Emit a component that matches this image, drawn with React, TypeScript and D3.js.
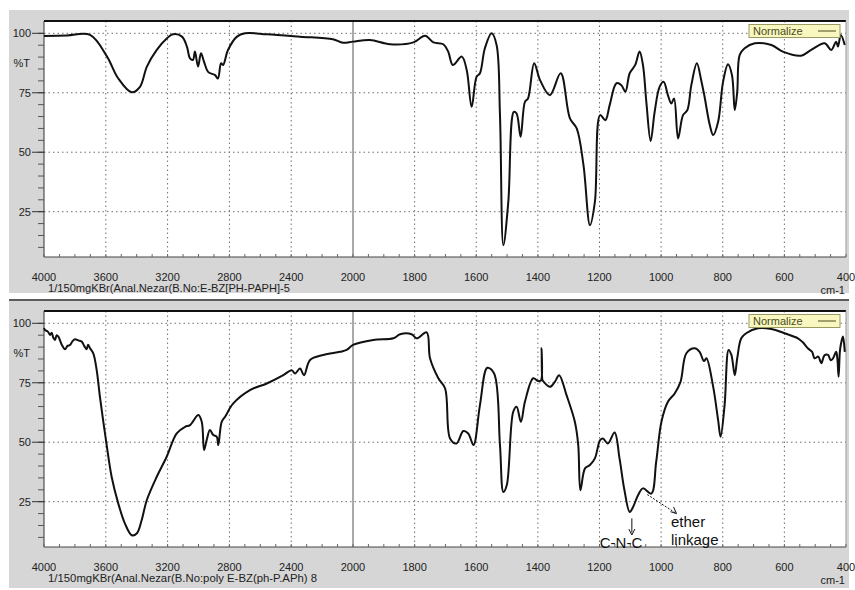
import * as d3 from 'd3';

// wavenumber (cm-1), %T
const TOP_SPECTRUM: [number, number][] = [
    [4000, 98.9], [3850, 99.1], [3702, 99.3], [3592, 90.2], [3521, 81.2], [3432, 75.2], [3379, 77.5],
    [3334, 86], [3270, 93], [3204, 97.9], [3165, 99.6], [3107, 98.6], [3075, 94.4], [3055, 89.5],
    [3036, 88.8], [3023, 92.3], [3003, 86], [2984, 91.6], [2964, 88], [2938, 83.8], [2893, 82.4],
    [2874, 81], [2854, 87.4], [2841, 86.7], [2809, 93], [2751, 98.6], [2699, 100], [2557, 99.6],
    [2343, 98.6], [2130, 97.5], [2065, 96], [2000, 96.5], [1945, 97.2], [1880, 95.4], [1804, 96.2],
    [1766, 99], [1739, 96.2], [1707, 95.4], [1691, 92.3], [1676, 86.7], [1647, 90.2], [1631, 84.6],
    [1615, 69.1], [1599, 81.7], [1588, 83.2], [1572, 93.7], [1550, 100], [1534, 95.1], [1523, 65.6],
    [1512, 10.9], [1496, 29.1], [1478, 67], [1469, 66.3], [1456, 56.5], [1442, 71.2], [1432, 72.6],
    [1412, 87.4], [1393, 80.3], [1361, 74], [1326, 83.2], [1296, 64.2], [1274, 60], [1252, 44.6],
    [1231, 19.3], [1215, 29.1], [1198, 65.6], [1181, 63.5], [1167, 69.8], [1145, 79], [1129, 78.2],
    [1116, 75.4], [1102, 83.2], [1084, 86.7], [1070, 92.3], [1059, 86.7], [1048, 71.2], [1034, 54.7],
    [1021, 67], [1005, 77.5], [992, 79.6], [978, 74], [967, 70.5], [958, 72.6], [945, 55.8],
    [929, 65.6], [915, 67.7], [902, 78.2], [884, 87.4], [870, 80.3], [859, 73.3], [842, 61.4],
    [831, 57.2], [815, 62.8], [799, 79.6], [783, 87], [770, 82.4], [761, 67.7], [753, 75.4],
    [745, 90.9], [729, 93.7], [696, 95.8], [642, 95.1], [605, 92.3], [546, 90.6], [513, 93],
    [469, 95.8], [448, 93], [432, 96.5], [426, 94.4], [417, 99.3], [404, 95.1],
];

// wavenumber (cm-1), %T (polymer)
const BOTTOM_SPECTRUM: [number, number][] = [
    [4000, 98], [3994, 97.2], [3975, 96.5], [3961, 95.1], [3950, 96], [3940, 94], [3929, 93],
    [3918, 95], [3907, 94.4], [3885, 91], [3864, 89.1], [3848, 90.5], [3832, 90.9], [3815, 92.5],
    [3799, 93.3], [3778, 92.8], [3756, 92.3], [3740, 90.5], [3724, 89.1], [3715, 91], [3702, 89.5],
    [3681, 87.4], [3659, 80.3], [3638, 69.1], [3599, 50.9], [3562, 35.4], [3519, 24.2], [3476, 15.8],
    [3432, 10.9], [3400, 11.6], [3368, 17.2], [3335, 25.6], [3271, 35.4], [3206, 43.9], [3141, 53.7],
    [3087, 56.5], [3055, 57.2], [3001, 61.4], [2979, 58.6], [2964, 46.7], [2947, 50.9], [2926, 55.1],
    [2904, 53], [2882, 52.3], [2872, 48.8], [2850, 58.6], [2828, 60.7], [2775, 66.3], [2667, 71.9],
    [2558, 74.7], [2451, 78.2], [2397, 80.3], [2375, 78.9], [2343, 81], [2317, 78.2], [2278, 84.6],
    [2192, 86.7], [2084, 88], [2041, 88.8], [2000, 90.9], [1934, 93], [1869, 93.7], [1847, 95.4],
    [1810, 95.4], [1793, 93.7], [1761, 96.2], [1750, 85.3], [1723, 76.9], [1701, 72.6], [1685, 51.6],
    [1664, 49.5], [1642, 54.7], [1626, 53.7], [1609, 48.8], [1588, 65.6], [1564, 81.3], [1542, 78.9],
    [1523, 48.8], [1512, 29.1], [1501, 31.9], [1480, 62.8], [1469, 64.9], [1455, 58.6], [1442, 67],
    [1415, 76.9], [1399, 75.7], [1390, 76], [1388, 89.5], [1385, 76], [1383, 75.7], [1361, 73.3],
    [1345, 75.4], [1331, 78.2], [1307, 69.8], [1280, 58.6], [1269, 48.8], [1262, 29.8], [1247, 39],
    [1231, 40.4], [1215, 43.2], [1198, 50.9], [1189, 51.6], [1173, 49.5], [1151, 54.1], [1135, 43.2],
    [1119, 29.8], [1102, 20.7], [1091, 22.8], [1075, 27.7], [1059, 30.6], [1032, 28.4], [1016, 41.8],
    [999, 58.6], [978, 67], [956, 70.5], [937, 75.4], [918, 87.4], [891, 89.5], [875, 88], [861, 84.1],
    [853, 85.3], [832, 74], [815, 59.3], [807, 52.3], [794, 65.6], [781, 88.8], [772, 86.7], [761, 78.2],
    [753, 85.3], [740, 93.7], [724, 95.8], [686, 97.9], [642, 97.6], [599, 95.8], [556, 93.7],
    [540, 92], [524, 89.5], [510, 88], [502, 85.3], [490, 86], [480, 83.2], [470, 86.5], [458, 86.7],
    [450, 84.5], [442, 85.3], [432, 88], [428, 85], [424, 77.5], [420, 88], [417, 90.9], [410, 94.4],
    [404, 88],
];

const X_TICKS = [4000, 3600, 3200, 2800, 2400, 2000, 1800, 1600, 1400, 1200, 1000, 800, 600, 400];
const Y_TICKS = [100, 75, 50, 25];
const Y_MINOR = d3.range(10, 101, 5);
const X_MINOR = [...d3.range(4000, 2000, -100), ...d3.range(2000, 399, -50)];

const TOP_CAPTION = '1/150mgKBr(Anal.Nezar(B.No:E-BZ[PH-PAPH]-5';
const BOTTOM_CAPTION = '1/150mgKBr(Anal.Nezar(B.No:poly E-BZ(ph-P.APh) 8';

const FONT = '"Liberation Sans Narrow", "Liberation Sans", Arial, sans-serif';

// Instrument plots use a x2 expansion below 2000 cm-1
const x = d3.scaleLinear().domain([4000, 2000, 400]).range([44, 353, 846]);
const y = d3.scaleLinear().domain([100, 25]).range([33.3, 211.7]);

const PLOT_TOP = 21;
const PLOT_BOTTOM = 257;

const line = d3
    .line<[number, number]>()
    .x((d) => x(d[0]))
    .y((d) => y(d[1]))
    .curve(d3.curveCatmullRom.alpha(0.5));

type PanelProps = {
    offsetY: number;
    data: [number, number][];
    caption: string;
    captionWidth: number;
    annotate?: boolean;
};

const Panel = ({ offsetY, data, caption, captionWidth, annotate }: PanelProps) => {
    const cnX = x(1095);
    return (
        <g transform={`translate(0,${offsetY})`}>
            {/* plot area */}
            <rect x={44} y={PLOT_TOP} width={802} height={PLOT_BOTTOM - PLOT_TOP} fill="#ffffff" />

            {/* dotted grid */}
            {Y_TICKS.map((t) => (
                <line
                    key={`gy${t}`}
                    x1={44}
                    x2={846}
                    y1={y(t)}
                    y2={y(t)}
                    stroke="#6f6f6f"
                    strokeWidth={1}
                    strokeDasharray="1.5,3"
                />
            ))}
            {X_TICKS.filter((t) => t !== 4000 && t !== 400 && t !== 2000).map((t) => (
                <line
                    key={`gx${t}`}
                    x1={x(t)}
                    x2={x(t)}
                    y1={PLOT_TOP}
                    y2={PLOT_BOTTOM}
                    stroke="#6f6f6f"
                    strokeWidth={1}
                    strokeDasharray="1.5,3"
                />
            ))}
            {/* scale break at 2000 */}
            <line x1={x(2000)} x2={x(2000)} y1={PLOT_TOP} y2={PLOT_BOTTOM} stroke="#555" strokeWidth={1} />

            {/* frame */}
            <line x1={44} x2={846} y1={PLOT_TOP} y2={PLOT_TOP} stroke="#111" strokeWidth={2} />
            <line x1={846} x2={846} y1={PLOT_TOP} y2={PLOT_BOTTOM} stroke="#999" strokeWidth={1} />
            <line x1={44} x2={44} y1={PLOT_TOP} y2={PLOT_BOTTOM} stroke="#333" strokeWidth={1} />
            <line x1={44} x2={846} y1={PLOT_BOTTOM} y2={PLOT_BOTTOM} stroke="#444" strokeWidth={1} />

            {/* y ticks */}
            {Y_MINOR.map((t) => (
                <line key={`ym${t}`} x1={38} x2={44} y1={y(t)} y2={y(t)} stroke="#555" strokeWidth={1} />
            ))}
            {Y_TICKS.map((t) => (
                <g key={`yt${t}`}>
                    <line x1={32} x2={44} y1={y(t)} y2={y(t)} stroke="#333" strokeWidth={1} />
                    <text
                        x={31}
                        y={y(t) + 4}
                        textAnchor="end"
                        fontSize={11}
                        fontFamily={FONT}
                        fill="#222"
                    >
                        {t}
                    </text>
                </g>
            ))}
            <text x={30} y={y(87.5) + 4} textAnchor="end" fontSize={11} fontFamily={FONT} fill="#222">
                %T
            </text>

            {/* x ticks */}
            {X_MINOR.map((t) => (
                <line
                    key={`xm${t}`}
                    x1={x(t)}
                    x2={x(t)}
                    y1={PLOT_BOTTOM}
                    y2={PLOT_BOTTOM - 3}
                    stroke="#666"
                    strokeWidth={1}
                />
            ))}
            {X_TICKS.map((t) => (
                <text
                    key={`xt${t}`}
                    x={x(t)}
                    y={PLOT_BOTTOM + 24}
                    textAnchor="middle"
                    fontSize={11}
                    fontFamily={FONT}
                    fill="#222"
                >
                    {t}
                </text>
            ))}
            <text
                x={48}
                y={PLOT_BOTTOM + 35}
                fontSize={11}
                fontFamily={FONT}
                fill="#222"
                textLength={captionWidth}
                lengthAdjust="spacingAndGlyphs"
            >
                {caption}
            </text>
            <text x={845} y={PLOT_BOTTOM + 37} textAnchor="end" fontSize={11} fontFamily={FONT} fill="#222">
                cm-1
            </text>

            {/* spectrum */}
            <path d={line(data) ?? ''} fill="none" stroke="#111" strokeWidth={2} strokeLinejoin="round" />

            {/* legend */}
            <rect x={749} y={24.5} width={91} height={13} fill="#f7f7bf" stroke="#9a9a60" strokeWidth={1} />
            <text x={753} y={35} fontSize={11} fontFamily={FONT} fill="#4b4b22">
                Normalize
            </text>
            <line x1={818} x2={836} y1={31} y2={31} stroke="#4b4b22" strokeWidth={1} />

            {annotate && (
                <g fontFamily='"Liberation Sans", Arial, sans-serif' fill="#111">
                    <line x1={cnX} x2={cnX} y1={y(18)} y2={y(12)} stroke="#111" strokeWidth={1} />
                    <path
                        d={`M${cnX - 3},${y(13.5)} L${cnX},${y(11)} L${cnX + 3},${y(13.5)}`}
                        fill="none"
                        stroke="#111"
                        strokeWidth={1}
                    />
                    <text x={621} y={y(5.5)} textAnchor="middle" fontSize={15}>
                        C-N-C
                    </text>
                    <line
                        x1={x(1045)}
                        x2={x(950)}
                        y1={y(28)}
                        y2={y(20)}
                        stroke="#111"
                        strokeWidth={1}
                        strokeDasharray="2,1.5"
                    />
                    <path
                        d={`M${x(950) - 6},${y(20.8)} L${x(950)},${y(20)} L${x(950) - 3},${y(22.8)}`}
                        fill="none"
                        stroke="#111"
                        strokeWidth={1}
                    />
                    <text x={671} y={y(14.5)} fontSize={15}>
                        ether
                    </text>
                    <text x={671} y={y(7)} fontSize={15}>
                        linkage
                    </text>
                </g>
            )}
        </g>
    );
};

export default function App() {
    return (
        <svg
            width={855}
            height={590}
            style={{ position: 'absolute', left: 0, top: 0, display: 'block', background: '#ffffff' }}
        >
            <rect x={9} y={10} width={840} height={283} fill="#d6d6d6" />
            <rect x={9} y={299} width={840} height={289} fill="#d6d6d6" />
            <line x1={9} x2={849} y1={300} y2={300} stroke="#333" strokeWidth={1.5} />
            <Panel offsetY={0} data={TOP_SPECTRUM} caption={TOP_CAPTION} captionWidth={242} />
            <Panel
                offsetY={290}
                data={BOTTOM_SPECTRUM}
                caption={BOTTOM_CAPTION}
                captionWidth={269}
                annotate
            />
        </svg>
    );
}
